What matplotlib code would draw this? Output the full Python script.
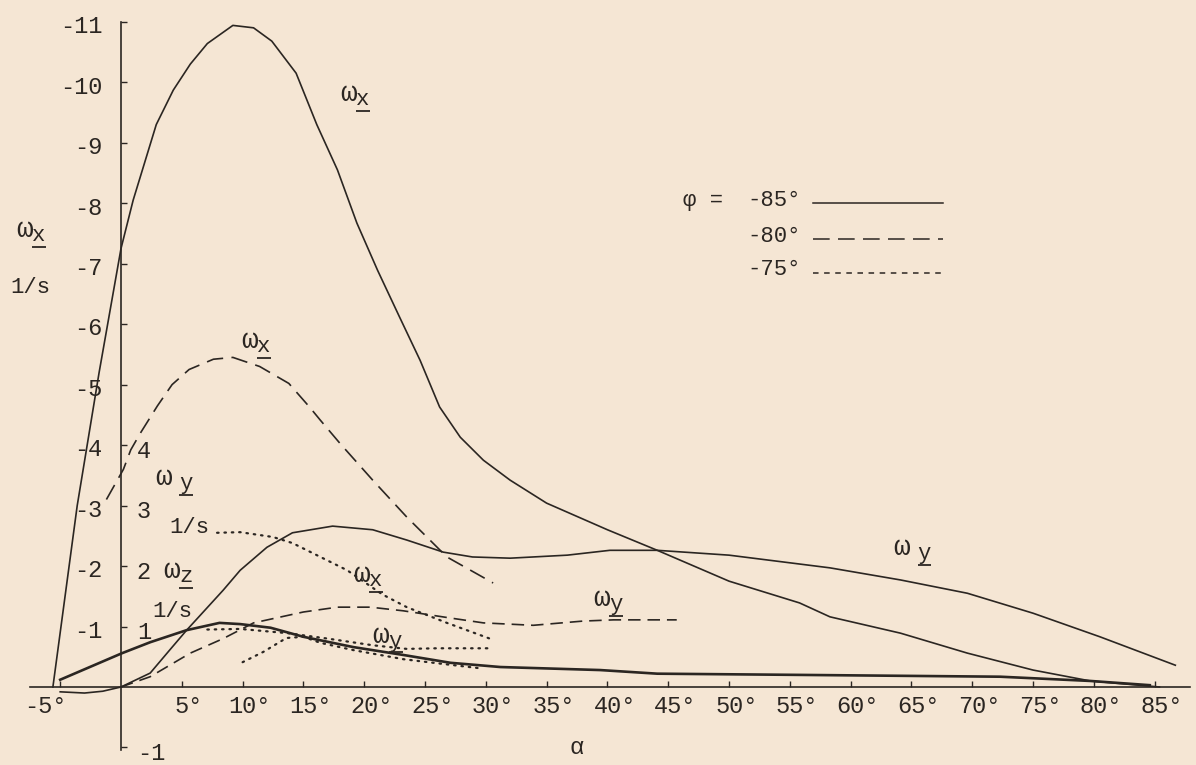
import matplotlib
matplotlib.use("Agg")
import matplotlib.pyplot as plt
from matplotlib.transforms import offset_copy

PAPER = "#f5e6d4"
INK = "#2b2622"

# angle of attack (deg) and |omega| (1/s)
# phi = -85 deg, solid
alpha_wx85 = [-5.6, -3.6, -1.8, 0, 1.0, 2.9, 4.3, 5.7, 7.1, 9.2, 10.9, 12.4, 14.4, 16.1,
              17.8, 19.4, 21.1, 22.9, 24.6, 26.2, 27.9, 29.8, 32.0, 35.0, 40.0, 44.1,
              50.0, 55.8, 58.3, 64.1, 69.6, 75.0, 79.7, 85.4]
wx85 = [0, 3.0, 5.2, 7.25, 8.05, 9.3, 9.87, 10.3, 10.64, 10.94, 10.9, 10.68, 10.15, 9.3,
        8.55, 7.67, 6.89, 6.12, 5.40, 4.63, 4.13, 3.75, 3.42, 3.04, 2.6, 2.26,
        1.75, 1.39, 1.16, 0.89, 0.56, 0.28, 0.1, 0]

alpha_wy85 = [-5.0, -3.0, -1.5, 0, 2.4, 4.0, 5.4, 8.4, 9.8, 12.0, 14.1, 17.4, 20.7, 23.5,
              26.5, 28.9, 32.0, 36.7, 40.2, 44.1, 50.0, 58.3, 64.1, 69.6, 75.0, 80.5, 86.7]
wy85 = [-0.08, -0.1, -0.07, 0, 0.23, 0.61, 0.94, 1.60, 1.93, 2.31, 2.55, 2.66, 2.60, 2.43,
        2.23, 2.15, 2.13, 2.18, 2.26, 2.26, 2.18, 1.97, 1.77, 1.55, 1.22, 0.83, 0.36]

alpha_wz85 = [-5.0, 0.1, 2.4, 5.4, 8.1, 9.8, 12.3, 15.0, 19.1, 23.2, 27.1, 31.2, 39.4,
              44.1, 55.8, 72.3, 79.7, 84.6]
wz85 = [0.12, 0.56, 0.74, 0.94, 1.06, 1.04, 0.98, 0.83, 0.66, 0.53, 0.40, 0.33, 0.28,
        0.22, 0.2, 0.17, 0.1, 0.03]

# phi = -80 deg, dashed
alpha_wx80 = [-1.2, 0.2, 0.8, 1.6, 3.0, 4.2, 5.6, 7.6, 9.2, 11.4, 13.8, 15.5, 16.4, 18.0,
              20.7, 23.5, 26.8, 30.6]
wx80 = [3.1, 3.6, 3.92, 4.2, 4.65, 5.0, 5.25, 5.42, 5.45, 5.3, 5.02, 4.63, 4.41, 4.03,
        3.42, 2.81, 2.15, 1.72]

alpha_wy80 = [0, 2.4, 5.7, 8.4, 10.9, 15.0, 17.8, 20.5, 23.2, 27.1, 29.8, 33.9, 38.0,
              40.5, 45.7]
wy80 = [0, 0.17, 0.56, 0.8, 1.06, 1.24, 1.32, 1.32, 1.26, 1.14, 1.06, 1.02, 1.09,
        1.11, 1.11]

# phi = -75 deg, dotted
alpha_wx75 = [7.9, 9.8, 12.5, 14.1, 16.4, 18.6, 21.5, 23.5, 26.8, 30.6]
wx75 = [2.55, 2.56, 2.48, 2.38, 2.15, 1.93, 1.53, 1.32, 1.06, 0.78]

alpha_wy75 = [7.1, 9.8, 13.7, 17.0, 20.7, 23.5, 26.0, 30.6]
wy75 = [0.95, 0.96, 0.89, 0.80, 0.69, 0.63, 0.64, 0.64]

alpha_wz75 = [10.0, 11.7, 13.6, 15.0, 16.4, 19.1, 21.3, 23.2, 25.7, 29.5]
wz75 = [0.41, 0.58, 0.81, 0.83, 0.73, 0.61, 0.53, 0.46, 0.40, 0.31]

x_ticks = [-5, 5, 10, 15, 20, 25, 30, 35, 40, 45, 50, 55, 60, 65, 70, 75, 80, 85]
x_labels = ["-5°", "5°", "10°", "15°", "20°", "25°", "30°", "35°", "40°", "45°",
            "50°", "55°", "60°", "65°", "70°", "75°", "80°", "85°"]
wx_ticks = [1, 2, 3, 4, 5, 6, 7, 8, 9, 10, 11]
wx_labels = ["-1", "-2", "-3", "-4", "-5", "-6", "-7", "-8", "-9", "-10", "-11"]
wyz_ticks = [1, 2, 3, 4, -1]
wyz_labels = ["1", "2", "3", "4", "-1"]

plt.rcParams["font.family"] = ["Liberation Mono", "DejaVu Sans Mono"]
plt.rcParams["lines.scale_dashes"] = False

FIG_W, FIG_H = 11.96, 7.65
XLIM = (-9.95, 88.4)
YLIM = (-1.29, 11.36)
DEG_PER_PT = (XLIM[1] - XLIM[0]) / (FIG_W * 72)


def omega(ax, x, y, sub, gap=0.0, size=16):
    # omega, then the subscript typed half a line lower and underscored
    dx = 0.72 * size + gap
    ax.text(x, y, "ω", fontsize=size + 4, color=INK, ha="left", va="center")
    ax.annotate(sub, (x, y), xytext=(dx, -4), textcoords="offset points",
                fontsize=size, color=INK, ha="left", va="center")
    under = offset_copy(ax.transData, fig=ax.figure, x=dx, y=-12, units="points")
    ax.plot([x, x + 0.62 * size * DEG_PER_PT], [y, y], color=INK, lw=1.3,
            transform=under, solid_capstyle="butt")


fig = plt.figure(figsize=(FIG_W, FIG_H), dpi=100, facecolor=PAPER)
ax = fig.add_axes([0, 0, 1, 1], facecolor=PAPER)
ax.set_xlim(*XLIM)
ax.set_ylim(*YLIM)

solid = dict(color=INK, lw=1.2)
ax.plot(alpha_wx85, wx85, **solid)
ax.plot(alpha_wy85, wy85, **solid)
ax.plot(alpha_wz85, wz85, color=INK, lw=1.9)
ax.plot(alpha_wx80, wx80, color=INK, lw=1.2, linestyle=(0, (12, 6)))
ax.plot(alpha_wy80, wy80, color=INK, lw=1.2, linestyle=(0, (9, 5)))
dotted = dict(color=INK, lw=1.6, linestyle=(0, (1.1, 4.2)), dash_capstyle="round")
ax.plot(alpha_wx75, wx75, **dotted)
ax.plot(alpha_wy75, wy75, **dotted)
ax.plot(alpha_wz75, wz75, **dotted)

# axes through the origin
for side in ["top", "right"]:
    ax.spines[side].set_visible(False)
ax.spines["left"].set_position(("data", 0))
ax.spines["bottom"].set_position(("data", 0))
ax.spines["left"].set_bounds(-1.04, 11.0)
ax.spines["bottom"].set_bounds(-7.5, 87.9)
for side in ["left", "bottom"]:
    ax.spines[side].set_color(INK)
    ax.spines[side].set_linewidth(1.2)
ax.set_xticks(x_ticks)
ax.set_yticks(wx_ticks + [-1])
ax.set_xticklabels([])
ax.set_yticklabels([])
ax.tick_params(direction="in", length=4.5, width=1, color=INK)

for deg, lab in zip(x_ticks, x_labels):
    xpos = deg - 1.2 if deg < 0 else deg + 0.6
    ax.text(xpos, -0.33, lab, fontsize=17, color=INK, ha="center", va="center")
for val, lab in zip(wx_ticks, wx_labels):
    ax.text(-1.5, val - 0.08, lab, fontsize=17, color=INK, ha="right", va="center")
for val, lab in zip(wyz_ticks, wyz_labels):
    ax.text(1.3, val - 0.1, lab, fontsize=17, color=INK, ha="left", va="center")

ax.text(37.5, -1.0, "α", fontsize=17, color=INK, ha="center", va="center")

# axis titles
omega(ax, -8.6, 7.55, "x")
ax.text(-9.1, 6.6, "1/s", fontsize=16, color=INK, ha="left", va="center")
omega(ax, 2.8, 3.45, "y", gap=6)
ax.text(4.0, 2.64, "1/s", fontsize=16, color=INK, ha="left", va="center")
omega(ax, 3.45, 1.92, "z")
ax.text(2.6, 1.25, "1/s", fontsize=16, color=INK, ha="left", va="center")

# curve labels
omega(ax, 18.0, 9.8, "x")
omega(ax, 9.9, 5.72, "x")
omega(ax, 19.1, 1.85, "x")
omega(ax, 20.7, 0.85, "y")
omega(ax, 38.8, 1.45, "y")
omega(ax, 63.5, 2.3, "y", gap=6)

# key
ax.text(46.2, 8.05, "φ =", fontsize=16, color=INK, ha="left", va="center")
key_rows = [("-85°", 8.05, "-"), ("-80°", 7.45, (0, (12, 6))), ("-75°", 6.9, (0, (4, 4)))]
for lab, yv, ls in key_rows:
    ax.text(51.5, yv, lab, fontsize=16, color=INK, ha="left", va="center")
    ax.plot([56.9, 67.6], [yv - 0.05, yv - 0.05], color=INK, lw=1.1, linestyle=ls)

fig.savefig("out.png", dpi=100, facecolor=PAPER)
